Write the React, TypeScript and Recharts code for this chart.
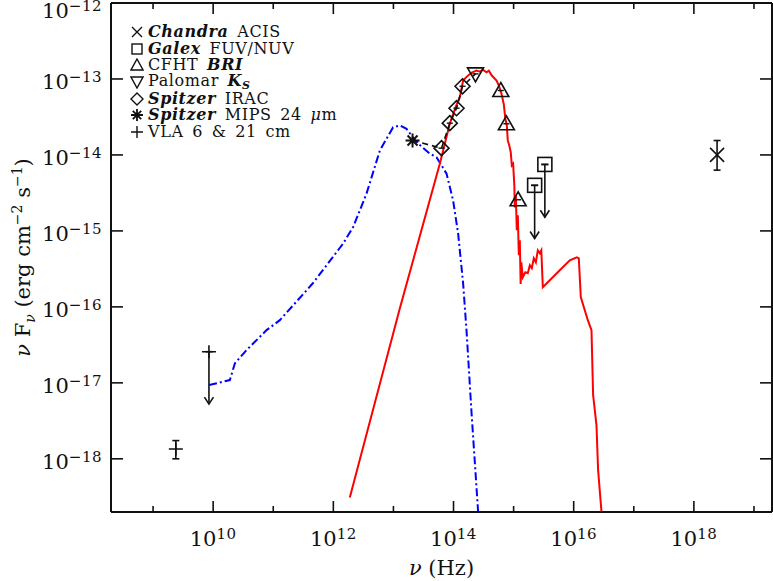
import React from "react";
import { ComposedChart, Scatter, XAxis, YAxis, Legend, Label, ReferenceLine } from "recharts";

// all values are log10: x = log10(nu / Hz), y = log10(nu F_nu / erg cm^-2 s^-1)
const xDomain = [8.3, 19.3];
const yDomain = [-18.7, -12];
const xTicks = [9, 10, 11, 12, 13, 14, 15, 16, 17, 18, 19];
const yTicks = [-18, -17, -16, -15, -14, -13, -12];

// dust model (blue dash-dot)
const dustNu = [
  9.933, 10.278, 10.361, 10.556, 10.889, 11.11, 11.659, 12.163, 12.33, 12.552,
  12.774, 12.995, 13.107, 13.218, 13.384, 13.606, 13.717, 13.884, 13.993,
  14.077, 14.16, 14.216, 14.3, 14.409,
];
const dustFlux = [
  -17.029, -16.963, -16.744, -16.569, -16.306, -16.175, -15.689, -15.167,
  -14.948, -14.51, -13.941, -13.635, -13.612, -13.656, -13.832, -13.984,
  -14.029, -14.247, -14.598, -15.035, -15.692, -16.306, -17.397, -18.694,
];

// stellar spectrum (red)
const starNu = [
  12.274, 13.106, 13.772, 13.938, 14.038, 14.105, 14.16, 14.205, 14.243, 14.305,
  14.383, 14.438, 14.488, 14.549, 14.588, 14.637, 14.716, 14.754, 14.799,
  14.837, 14.862, 14.887, 14.903, 14.928, 14.953, 14.97, 14.992, 15.012, 15.02,
  15.037, 15.053, 15.07, 15.087, 15.103, 15.117, 15.128, 15.153, 15.195, 15.236,
  15.27, 15.303, 15.336, 15.37, 15.403, 15.436, 15.461, 15.486, 15.569, 15.768,
  15.935, 16.052, 16.085, 16.118, 16.235, 16.296, 16.323, 16.379, 16.406,
  16.462,
];
const starFlux = [
  -18.51, -16.021, -14.116, -13.59, -13.363, -13.24, -13.021, -12.982, -12.955,
  -12.916, -12.89, -12.903, -12.877, -12.912, -12.89, -12.955, -13.021, -13.087,
  -13.196, -13.336, -13.52, -13.612, -13.809, -13.875, -13.967, -14.138,
  -14.116, -14.401, -14.69, -14.532, -14.992, -14.795, -15.32, -15.124, -15.7,
  -15.413, -15.61, -15.544, -15.557, -15.452, -15.491, -15.36, -15.413, -15.255,
  -15.294, -15.255, -15.741, -15.675, -15.518, -15.386, -15.347, -15.36,
  -15.872, -16.175, -16.306, -17.16, -17.555, -18.146, -18.694,
];

// photometry
const xrayNu = [18.386];
const xrayFlux = [-14.0];
const xrayLow = [-14.2];
const xrayHigh = [-13.81];

const uvNu = [15.35, 15.52];
const uvFlux = [-14.4, -14.125];
const uvLimitTo = [-15.1, -14.82];

const optNu = [14.787, 14.88, 15.075];
const optFlux = [-13.152, -13.59, -14.59];

const ksNu = [14.366];
const ksFlux = [-12.933];

const iracNu = [13.8, 13.938, 14.05, 14.15];
const iracFlux = [-13.911, -13.582, -13.385, -13.096];

const mipsNu = [13.318];
const mipsFlux = [-13.81];

const radioNu = [9.379];
const radioFlux = [-17.87];
const radioLow = [-18.0];
const radioHigh = [-17.76];

const radioLimNu = [9.93];
const radioLimFlux = [-16.59];
const radioLimTo = [-17.28];

const INK = "#111";
const FONT = "'DejaVu Serif', serif";

// chart layout
const W = 773;
const H = 581;
const MARGIN = { top: 3, right: 1, bottom: 0, left: 0 };
const Y_AXIS_W = 111;
const X_AXIS_H = 69;
const PLOT_W = W - Y_AXIS_W - MARGIN.right;
const PLOT_H = H - X_AXIS_H - MARGIN.top;

const pts = (xs: number[], ys: number[]) => xs.map((x, i) => ({ x, y: ys[i] }));

const irSed = pts([...mipsNu, ...iracNu, ...ksNu], [...mipsFlux, ...iracFlux, ...ksFlux]);

const errorSegs = (xs: number[], lo: number[], hi: number[]) =>
  xs.map((x, i) => [
    { x, y: lo[i], end: "cap" },
    { x, y: hi[i], end: "cap" },
  ]);
const limitSegs = (xs: number[], from: number[], to: number[]) =>
  xs.map((x, i) => [
    { x, y: from[i], end: "cap" },
    { x, y: to[i], end: "head" },
  ]);

const segments = [
  ...errorSegs(xrayNu, xrayLow, xrayHigh),
  ...errorSegs(radioNu, radioLow, radioHigh),
  ...limitSegs(uvNu, uvFlux, uvLimitTo),
  ...limitSegs(radioLimNu, radioLimFlux, radioLimTo),
];

const Empty = () => <g />;

const SegEnd = (p: any) => {
  const { cx, cy, payload } = p;
  if (payload.end === "head")
    return (
      <path
        d={`M${cx - 4.5},${cy - 7}L${cx},${cy}L${cx + 4.5},${cy - 7}`}
        fill="none"
        stroke={INK}
        strokeWidth={1.6}
      />
    );
  return <line x1={cx - 3.5} x2={cx + 3.5} y1={cy} y2={cy} stroke={INK} strokeWidth={1.6} />;
};

const mk = { fill: "none", stroke: INK, strokeWidth: 1.6 };

const CrossX = ({ cx, cy }: any) => (
  <path d={`M${cx - 7},${cy - 7}L${cx + 7},${cy + 7}M${cx - 7},${cy + 7}L${cx + 7},${cy - 7}`} {...mk} />
);
const Plus = ({ cx, cy }: any) => (
  <path d={`M${cx - 7},${cy}L${cx + 7},${cy}M${cx},${cy - 6.5}L${cx},${cy + 6.5}`} {...mk} />
);
const Square = ({ cx, cy }: any) => (
  <g>
    <rect x={cx - 7} y={cy - 7} width={14} height={14} {...mk} />
    <line x1={cx - 3.5} x2={cx + 3.5} y1={cy} y2={cy} stroke={INK} strokeWidth={1.6} />
  </g>
);
const TriUp = ({ cx, cy }: any) => (
  <g>
    <path d={`M${cx},${cy - 8}L${cx + 8},${cy + 6}L${cx - 8},${cy + 6}Z`} {...mk} />
    <line x1={cx - 3} x2={cx + 3} y1={cy} y2={cy} stroke={INK} strokeWidth={1.4} />
  </g>
);
const TriDown = ({ cx, cy }: any) => (
  <g>
    <path d={`M${cx - 8},${cy - 6}L${cx + 8},${cy - 6}L${cx},${cy + 8}Z`} {...mk} />
    <line x1={cx - 3} x2={cx + 3} y1={cy} y2={cy} stroke={INK} strokeWidth={1.4} />
  </g>
);
const Diamond = ({ cx, cy }: any) => (
  <g>
    <path d={`M${cx},${cy - 7.5}L${cx + 7.5},${cy}L${cx},${cy + 7.5}L${cx - 7.5},${cy}Z`} {...mk} />
    <line x1={cx - 3} x2={cx + 3} y1={cy} y2={cy} stroke={INK} strokeWidth={1.4} />
  </g>
);
const Star = ({ cx, cy }: any) => (
  <path
    d={`M${cx - 7},${cy}L${cx + 7},${cy}M${cx},${cy - 7}L${cx},${cy + 7}M${cx - 5},${cy - 5}L${cx + 5},${cy + 5}M${cx - 5},${cy + 5}L${cx + 5},${cy - 5}`}
    stroke={INK}
    strokeWidth={2}
    fill="none"
  />
);

const Pow = ({ x, y, v, anchor }: any) => (
  <text x={x} y={y} textAnchor={anchor} fontFamily={FONT} fontSize={21} fill={INK}>
    10
    <tspan dy={-7} fontSize={15} letterSpacing={0.5}>
      {v < 0 ? `\u2212${Math.abs(v)}` : v}
    </tspan>
  </text>
);

// ticks point into the plot and are mirrored on the opposite side
const BottomTick = ({ x, y, payload }: any) => {
  const major = payload.value % 2 === 0;
  const len = major ? 11 : 6;
  const top = y - PLOT_H;
  return (
    <g>
      <line x1={x} x2={x} y1={y} y2={y - len} stroke={INK} strokeWidth={1.6} />
      <line x1={x} x2={x} y1={top} y2={top + len} stroke={INK} strokeWidth={1.6} />
      {major && <Pow x={x} y={y + 34} v={payload.value} anchor="middle" />}
    </g>
  );
};
const LeftTick = ({ x, y, payload }: any) => {
  const right = x + PLOT_W;
  return (
    <g>
      <line x1={x} x2={x + 12} y1={y} y2={y} stroke={INK} strokeWidth={1.6} />
      <line x1={right} x2={right - 12} y1={y} y2={y} stroke={INK} strokeWidth={1.6} />
      {/* the top label is nudged down so it stays on the page */}
      <Pow x={x - 9} y={y + (payload.value === -12 ? 15 : 10)} v={payload.value} anchor="end" />
    </g>
  );
};

const XTitle = ({ viewBox }: any) => (
  <text x={viewBox.x + viewBox.width / 2} y={viewBox.y + 63} textAnchor="middle" fontFamily={FONT} fontSize={21} fill={INK}>
    <tspan fontStyle="italic">ν</tspan> (Hz)
  </text>
);

const YTitle = ({ viewBox }: any) => {
  const cx = viewBox.x + 30;
  const cy = viewBox.y + viewBox.height / 2;
  return (
    <text x={cx} y={cy} transform={`rotate(-90 ${cx} ${cy})`} textAnchor="middle" fontFamily={FONT} fontSize={21} fill={INK}>
      <tspan fontStyle="italic">ν</tspan> F
      <tspan dy={5} fontSize={14} fontStyle="italic">ν</tspan>
      <tspan dy={-5}> (erg cm</tspan>
      <tspan dy={-8} fontSize={14}>−2</tspan>
      <tspan dy={8}> s</tspan>
      <tspan dy={-8} fontSize={14}>−1</tspan>
      <tspan dy={8}>)</tspan>
    </text>
  );
};

const LegendSym = ({ kind }: { kind: string }) => {
  const c = 7;
  const s = { fill: "none", stroke: INK, strokeWidth: 1.4 };
  let el: React.ReactNode = null;
  if (kind === "x") el = <path d={`M2,2L12,12M2,12L12,2`} {...s} />;
  if (kind === "sq") el = <rect x={2} y={2} width={10} height={10} {...s} />;
  if (kind === "up") el = <path d={`M${c},1L13,12L1,12Z`} {...s} />;
  if (kind === "down") el = <path d={`M1,2L13,2L${c},13Z`} {...s} />;
  if (kind === "dia") el = <path d={`M${c},1L13,${c}L${c},13L1,${c}Z`} {...s} />;
  if (kind === "star") el = <path d={`M1,7L13,7M7,1L7,13M2.8,2.8L11.2,11.2M2.8,11.2L11.2,2.8`} {...s} strokeWidth={1.8} />;
  if (kind === "plus") el = <path d={`M1,7L13,7M7,1L7,13`} {...s} />;
  return (
    <svg width={14} height={14} style={{ display: "block", marginRight: 4, flex: "none" }}>
      {el}
    </svg>
  );
};

const bi: React.CSSProperties = { fontWeight: "bold", fontStyle: "italic" };
const row: React.CSSProperties = { display: "flex", alignItems: "center", height: 16.6 };

const LegendBox = () => (
  <div style={{ fontFamily: FONT, fontSize: 16, lineHeight: "16px", color: INK, whiteSpace: "nowrap", letterSpacing: 0.6, wordSpacing: 3 }}>
    <div style={row}><LegendSym kind="x" /><span><span style={bi}>Chandra</span> ACIS</span></div>
    <div style={row}><LegendSym kind="sq" /><span><span style={bi}>Galex</span> FUV/NUV</span></div>
    <div style={row}><LegendSym kind="up" /><span>CFHT <span style={bi}>BRI</span></span></div>
    <div style={row}>
      <LegendSym kind="down" />
      <span>
        Palomar <span style={bi}>K<span style={{ fontSize: 11, position: "relative", top: 3 }}>S</span></span>
      </span>
    </div>
    <div style={row}><LegendSym kind="dia" /><span><span style={bi}>Spitzer</span> IRAC</span></div>
    <div style={row}><LegendSym kind="star" /><span><span style={bi}>Spitzer</span> MIPS 24 <i>μ</i>m</span></div>
    <div style={row}><LegendSym kind="plus" /><span>VLA 6 &amp; 21 cm</span></div>
  </div>
);

export default function App() {
  return (
    <div style={{ position: "absolute", left: 0, top: 0, background: "#fff" }}>
      <ComposedChart width={W} height={H} margin={MARGIN}>
        <XAxis
          type="number"
          dataKey="x"
          domain={xDomain}
          ticks={xTicks}
          interval={0}
          allowDataOverflow
          height={X_AXIS_H}
          tickSize={0}
          tickMargin={0}
          tickLine={false}
          axisLine={{ stroke: INK, strokeWidth: 2 }}
          tick={BottomTick}
        >
          <Label content={XTitle} />
        </XAxis>
        <YAxis
          type="number"
          dataKey="y"
          domain={yDomain}
          ticks={yTicks}
          interval={0}
          allowDataOverflow
          width={Y_AXIS_W}
          tickSize={0}
          tickMargin={0}
          tickLine={false}
          axisLine={{ stroke: INK, strokeWidth: 2 }}
          tick={LeftTick}
        >
          <Label content={YTitle} />
        </YAxis>

        {/* top and right edges of the frame */}
        <ReferenceLine y={yDomain[1]} stroke={INK} strokeWidth={2} />
        <ReferenceLine x={xDomain[1]} stroke={INK} strokeWidth={2} />

        <Scatter
          data={pts(dustNu, dustFlux)}
          line={{ stroke: "#0000ff", strokeWidth: 2, strokeDasharray: "8 3 2 3" }}
          shape={Empty}
          isAnimationActive={false}
        />
        <Scatter
          data={pts(starNu, starFlux)}
          line={{ stroke: "#ff0000", strokeWidth: 2 }}
          shape={Empty}
          isAnimationActive={false}
        />
        <Scatter
          data={irSed}
          line={{ stroke: INK, strokeWidth: 1.6, strokeDasharray: "6 4" }}
          shape={Empty}
          isAnimationActive={false}
        />
        {segments.map((seg, i) => (
          <Scatter
            key={`seg${i}`}
            data={seg}
            line={{ stroke: INK, strokeWidth: 1.6 }}
            shape={SegEnd}
            isAnimationActive={false}
          />
        ))}
        <Scatter data={pts(xrayNu, xrayFlux)} shape={CrossX} isAnimationActive={false} />
        <Scatter data={pts(uvNu, uvFlux)} shape={Square} isAnimationActive={false} />
        <Scatter data={pts(optNu, optFlux)} shape={TriUp} isAnimationActive={false} />
        <Scatter data={pts(ksNu, ksFlux)} shape={TriDown} isAnimationActive={false} />
        <Scatter data={pts(iracNu, iracFlux)} shape={Diamond} isAnimationActive={false} />
        <Scatter data={pts(mipsNu, mipsFlux)} shape={Star} isAnimationActive={false} />
        <Scatter data={pts(radioNu, radioFlux)} shape={Plus} isAnimationActive={false} />
        <Scatter data={pts(radioLimNu, radioLimFlux)} shape={Plus} isAnimationActive={false} />

        <Legend
          layout="vertical"
          align="center"
          verticalAlign="middle"
          wrapperStyle={{ top: 24, left: 130, width: "auto" }}
          content={LegendBox}
        />
      </ComposedChart>
    </div>
  );
}
